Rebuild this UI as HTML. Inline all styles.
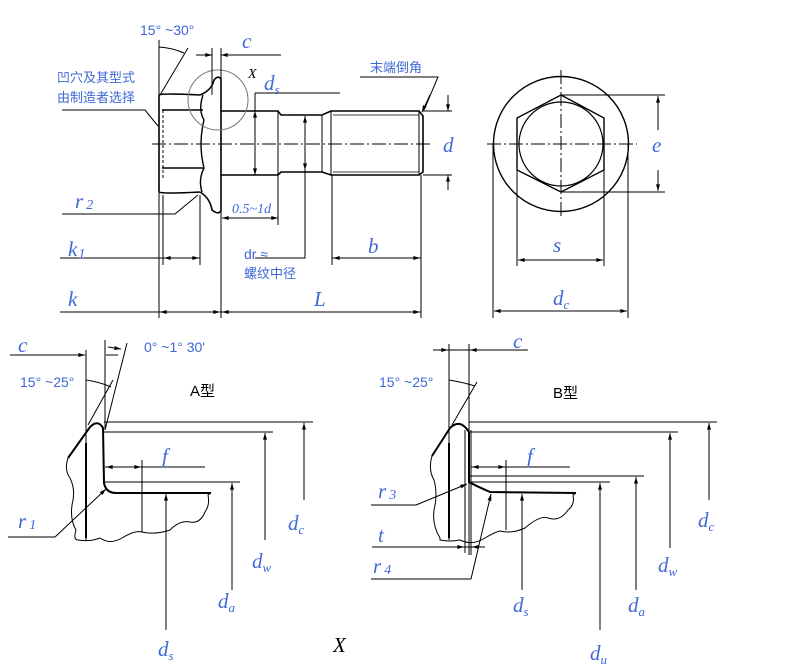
<!DOCTYPE html>
<html><head><meta charset="utf-8"><style>
html,body{margin:0;padding:0;background:#fff;}
svg{display:block;}
.b{fill:#3f68d6;font-family:"Liberation Serif",serif;font-style:italic;font-size:21px;}
.s{fill:#3f68d6;font-family:"Liberation Serif",serif;font-style:italic;font-size:14px;}
.n{fill:#3f68d6;font-family:"Liberation Sans","Noto Sans CJK SC",sans-serif;font-size:14px;}
.k{fill:#000;font-family:"Liberation Sans","Noto Sans CJK SC",sans-serif;font-size:15px;}
</style></head><body>
<svg width="800" height="671" viewBox="0 0 800 671" xmlns="http://www.w3.org/2000/svg">
<defs>
<marker id="a" viewBox="0 0 10 6" refX="10" refY="3" markerWidth="8" markerHeight="4" orient="auto-start-reverse" markerUnits="userSpaceOnUse"><path d="M0,0L10,3L0,6z" fill="#000"/></marker>
</defs>
<g stroke="#000" fill="none" stroke-width="1">
<!-- TOP VIEW -->
<line x1="152" y1="144" x2="432" y2="144" stroke-dasharray="14,3,2,3"/>
<!-- hex head -->
<path d="M159,95 L159,192 M162,110 L203,110 M162,168 L203,168 M159,95 Q162,93 200,95 M159,192 Q162,194 200,192" stroke-width="1.6"/>
<path d="M163,110 V178" stroke-dasharray="3,2"/>
<path d="M203,95 Q198,110 204,120 Q198,144 204,168 Q198,180 202,192" stroke-width="1.4"/>
<!-- flange -->
<path d="M200,95 Q212,90 214,80 Q218,75 221,79 L221,211 Q218,215 212,210 Q210,198 200,192" stroke-width="1.6"/>
<!-- shank -->
<path d="M221,111 L278,111 L281,115 L322,115 L331,111 L419,111 L423,116 L423,172 L419,175 L331,175 L322,172 L281,172 L278,175 L221,175" stroke-width="1.6"/>
<path d="M278,111 V175 M331,111 V175 M419,111 V175 M322,115 V172"/>
<path d="M333,115 H419 M333,172 H419" stroke-width="0.7"/>
<circle cx="218" cy="100" r="30" stroke="#777"/>
<!-- 15-30 -->
<path d="M159,40 V95 M160,95 L188,48 M159,47 Q173,48 184,53"/>
<!-- c top -->
<path d="M212,48 V95 M221,48 V80 M196,55 H210 M223,55 H281" />
<line x1="198" y1="55" x2="212" y2="55" marker-end="url(#a)"/>
<line x1="236" y1="55" x2="221" y2="55" marker-end="url(#a)"/>
<!-- recess leader -->
<path d="M62,110 H145 L158,126"/>
<!-- ds -->
<path d="M255,93 H340 M255,93 V175"/>
<line x1="255" y1="150" x2="255" y2="111" marker-end="url(#a)"/>
<line x1="255" y1="150" x2="255" y2="175" marker-end="url(#a)"/>
<!-- end chamfer -->
<path d="M360,77 H438 L424,110"/>
<line x1="430" y1="95" x2="422" y2="112" marker-end="url(#a)"/>
<!-- d -->
<path d="M423,111 H452 M423,175 H452"/>
<line x1="448" y1="95" x2="448" y2="111" marker-end="url(#a)"/>
<line x1="448" y1="190" x2="448" y2="175" marker-end="url(#a)"/>
<!-- r2 -->
<path d="M62,214 H175 L198,195"/>
<!-- 0.5-1d -->
<path d="M278,175 V225"/>
<line x1="250" y1="218" x2="222" y2="218" marker-end="url(#a)"/>
<line x1="250" y1="218" x2="278" y2="218" marker-end="url(#a)"/>
<!-- dr -->
<path d="M255,258 H305 V117"/>
<line x1="305" y1="140" x2="305" y2="116" marker-end="url(#a)"/>
<line x1="305" y1="150" x2="305" y2="170" marker-end="url(#a)"/>
<!-- k1 -->
<path d="M60,258 H200 M163,195 V265 M200,195 V265"/>
<line x1="180" y1="258" x2="164" y2="258" marker-end="url(#a)"/>
<line x1="182" y1="258" x2="199" y2="258" marker-end="url(#a)"/>
<!-- b -->
<path d="M332,175 V265 M421,175 V318 M332,258 H421"/>
<line x1="370" y1="258" x2="333" y2="258" marker-end="url(#a)"/>
<line x1="380" y1="258" x2="420" y2="258" marker-end="url(#a)"/>
<!-- k, L -->
<path d="M60,312 H421 M159,192 V318 M221,211 V318"/>
<line x1="190" y1="312" x2="160" y2="312" marker-end="url(#a)"/>
<line x1="190" y1="312" x2="220" y2="312" marker-end="url(#a)"/>
<line x1="320" y1="312" x2="222" y2="312" marker-end="url(#a)"/>
<line x1="320" y1="312" x2="420" y2="312" marker-end="url(#a)"/>

<!-- END VIEW -->
<circle cx="561" cy="144" r="67.5" stroke-width="1.4"/>
<circle cx="561" cy="144" r="42" stroke-width="1.2"/>
<path d="M561,95 L604,118 L604,170 L561,192 L517,170 L517,118 Z" stroke-width="1.4"/>
<line x1="487" y1="144" x2="637" y2="144" stroke-dasharray="14,3,2,3"/>
<line x1="561" y1="70" x2="561" y2="218" stroke-dasharray="14,3,2,3"/>
<path d="M561,95 H665 M561,192 H665"/>
<line x1="658" y1="130" x2="658" y2="96" marker-end="url(#a)"/>
<line x1="658" y1="170" x2="658" y2="191" marker-end="url(#a)"/>
<path d="M517,170 V266 M604,170 V266 M493,144 V318 M628,144 V318"/>
<line x1="560" y1="260" x2="518" y2="260" marker-end="url(#a)"/>
<line x1="560" y1="260" x2="603" y2="260" marker-end="url(#a)"/>
<line x1="560" y1="311" x2="494" y2="311" marker-end="url(#a)"/>
<line x1="560" y1="311" x2="627" y2="311" marker-end="url(#a)"/>

<!-- A TYPE -->
<path d="M86,350 V540 M105,340 V430 M105,430 L127,343 M10,355 H85 M106,355 H118"/>
<line x1="60" y1="355" x2="85" y2="355" marker-end="url(#a)"/>
<line x1="108" y1="347" x2="121" y2="349" marker-end="url(#a)"/>
<path d="M88,425 L113,380 M86,380 Q100,382 111,387"/>
<path d="M68,458 L90,427 Q98,419 103,428 L104,483 Q106,493 116,493 L211,493" stroke-width="2"/>
<path d="M86,443 V538" stroke-width="2"/>
<path d="M68,458 Q64,470 70,478 Q76,490 72,505 Q70,520 76,530 Q73,540 78,540 Q90,542 100,538 Q110,545 122,538 Q135,530 142,532 Q155,535 170,530 Q180,520 190,522 Q200,524 205,512 Q210,505 208,495 L211,493"/>
<path d="M104,422 H313 M104,432 H273 M104,482 H240 M105,467 H205 M142,460 V532"/>
<line x1="125" y1="467" x2="106" y2="467" marker-end="url(#a)"/>
<line x1="125" y1="467" x2="141" y2="467" marker-end="url(#a)"/>
<line x1="304" y1="500" x2="304" y2="423" marker-end="url(#a)"/>
<line x1="265" y1="540" x2="265" y2="433" marker-end="url(#a)"/>
<line x1="232" y1="590" x2="232" y2="483" marker-end="url(#a)"/>
<line x1="166" y1="630" x2="166" y2="494" marker-end="url(#a)"/>
<path d="M8,537 H55"/>
<line x1="55" y1="537" x2="106" y2="489" marker-end="url(#a)"/>

<!-- B TYPE -->
<path d="M449,344 V540 M469,344 V555 M465,430 V553 M471,430 V555 M433,350 H528"/>
<line x1="433" y1="350" x2="448" y2="350" marker-end="url(#a)"/>
<line x1="490" y1="350" x2="470" y2="350" marker-end="url(#a)"/>
<path d="M452,425 L477,382 M449,380 Q462,382 475,386"/>
<path d="M432,456 L450,428 Q460,418 469,432 L469,482 Q472,484 490,492 L576,493" stroke-width="2"/>
<path d="M449,443 V538" stroke-width="2"/>
<path d="M432,456 Q428,470 434,480 Q438,495 434,510 Q432,525 440,538 L440,540 Q450,542 460,540 Q472,546 485,538 Q495,532 500,531 Q512,534 525,528 Q540,515 548,518 Q560,522 568,510 Q575,505 573,495 L576,493"/>
<path d="M469,422 H717 M469,432 H678 M469,476 H644 M469,482 H610 M471,467 H570 M506,460 V530"/>
<line x1="490" y1="467" x2="472" y2="467" marker-end="url(#a)"/>
<line x1="490" y1="467" x2="505" y2="467" marker-end="url(#a)"/>
<line x1="709" y1="500" x2="709" y2="423" marker-end="url(#a)"/>
<line x1="670" y1="548" x2="670" y2="433" marker-end="url(#a)"/>
<line x1="636" y1="590" x2="636" y2="477" marker-end="url(#a)"/>
<line x1="600" y1="630" x2="600" y2="483" marker-end="url(#a)"/>
<line x1="522" y1="590" x2="522" y2="494" marker-end="url(#a)"/>
<path d="M371,505 H416"/>
<line x1="416" y1="505" x2="467" y2="484" marker-end="url(#a)"/>
<path d="M372,547 H485"/>
<line x1="450" y1="547" x2="464" y2="547" marker-end="url(#a)"/>
<line x1="485" y1="547" x2="472" y2="547" marker-end="url(#a)"/>
<path d="M371,579 H471"/>
<line x1="471" y1="579" x2="491" y2="494" marker-end="url(#a)"/>
</g>

<!-- TEXT -->
<text class="n" x="140" y="35">15° ~30°</text>
<text class="b" x="242" y="48">c</text>
<text class="s" x="248" y="78" style="fill:#000">X</text>
<text class="b" x="264" y="90">d<tspan font-size="13" dy="4">s</tspan></text>
<text class="n" x="57" y="82" style="font-size:13px">凹穴及其型式</text>
<text class="n" x="57" y="102" style="font-size:13px">由制造者选择</text>
<text class="n" x="370" y="72" style="font-size:13px">末端倒角</text>
<text class="b" x="443" y="152">d</text>
<text class="b" x="652" y="152">e</text>
<text class="b" x="75" y="208">r<tspan font-size="14" dx="3" dy="1">2</tspan></text>
<text class="s" x="232" y="213">0.5~1d</text>
<text class="b" x="68" y="256">k<tspan font-size="14" dx="1" dy="2">1</tspan></text>
<text class="n" x="244" y="259">dr ≈</text>
<text class="n" x="244" y="278" style="font-size:13px">螺纹中径</text>
<text class="b" x="368" y="253">b</text>
<text class="b" x="553" y="252">s</text>
<text class="b" x="68" y="306">k</text>
<text class="b" x="314" y="306">L</text>
<text class="b" x="553" y="305">d<tspan font-size="13" dy="4">c</tspan></text>

<text class="b" x="18" y="352">c</text>
<text class="n" x="144" y="352">0° ~1° 30'</text>
<text class="n" x="20" y="387">15° ~25°</text>
<text class="k" x="190" y="396">A型</text>
<text class="b" x="162" y="463">f</text>
<text class="b" x="18" y="528">r<tspan font-size="14" dx="3" dy="1">1</tspan></text>
<text class="b" x="288" y="530">d<tspan font-size="13" dy="4">c</tspan></text>
<text class="b" x="252" y="568">d<tspan font-size="13" dy="4">w</tspan></text>
<text class="b" x="218" y="608">d<tspan font-size="13" dy="4">a</tspan></text>
<text class="b" x="158" y="656">d<tspan font-size="13" dy="4">s</tspan></text>
<text class="b" x="333" y="652" style="fill:#000">X</text>

<text class="b" x="513" y="348">c</text>
<text class="n" x="379" y="387">15° ~25°</text>
<text class="k" x="553" y="398">B型</text>
<text class="b" x="527" y="463">f</text>
<text class="b" x="378" y="498">r<tspan font-size="14" dx="3" dy="1">3</tspan></text>
<text class="b" x="378" y="542">t</text>
<text class="b" x="373" y="573">r<tspan font-size="14" dx="3" dy="1">4</tspan></text>
<text class="b" x="698" y="527">d<tspan font-size="13" dy="4">c</tspan></text>
<text class="b" x="658" y="572">d<tspan font-size="13" dy="4">w</tspan></text>
<text class="b" x="513" y="612">d<tspan font-size="13" dy="4">s</tspan></text>
<text class="b" x="628" y="612">d<tspan font-size="13" dy="4">a</tspan></text>
<text class="b" x="590" y="660">d<tspan font-size="13" dy="4">u</tspan></text>
</svg>
</body></html>
